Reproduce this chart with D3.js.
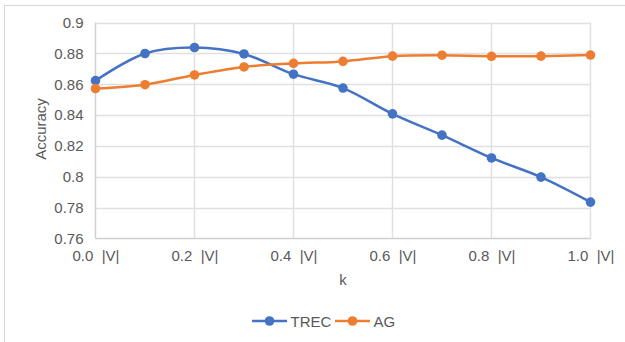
<!DOCTYPE html>
<html>
<head>
<meta charset="utf-8">
<script src="https://cdn.jsdelivr.net/npm/d3@7"></script>
<style>
  html, body { margin: 0; padding: 0; background: #fff; }
  svg { display: block; }
  text { font-family: "Liberation Sans", Arial, sans-serif; fill: #595959; }
</style>
</head>
<body>
<svg id="chart" width="625" height="342"></svg>
<script>
// k as a fraction of |V|
const kValues = [0.0, 0.1, 0.2, 0.3, 0.4, 0.5, 0.6, 0.7, 0.8, 0.9, 1.0];
const trecAccuracy = [0.8623, 0.8799, 0.8838, 0.8796, 0.8665, 0.8575, 0.8408, 0.8270, 0.8122, 0.7998, 0.7836];
const agAccuracy   = [0.8572, 0.8597, 0.8660, 0.8712, 0.8735, 0.8748, 0.8782, 0.8788, 0.8781, 0.8782, 0.8789];
const yTicks = [0.76, 0.78, 0.8, 0.82, 0.84, 0.86, 0.88, 0.9];
const xLabelTicks = [0.0, 0.2, 0.4, 0.6, 0.8, 1.0];
const seriesNames = ["TREC", "AG"];
const seriesColors = ["#4472C4", "#ED7D31"];

const svg = d3.select("#chart");
const plot = { left: 95.5, right: 590.5, top: 22.5, bottom: 238.5 };

// outer chart frame
svg.append("rect")
  .attr("x", 4.5).attr("y", 5.5).attr("width", 700).attr("height", 400)
  .attr("fill", "none").attr("stroke", "#d9d9d9").attr("stroke-width", 1);

const x = d3.scaleLinear().domain([0, 1]).range([plot.left, plot.right]);
const y = d3.scaleLinear().domain([0.76, 0.9]).range([plot.bottom, plot.top]);

// horizontal gridlines + y labels
const yAxis = d3.axisLeft(y).tickValues(yTicks).tickSize(0).tickPadding(12)
  .tickFormat(d => d3.format("")(+d.toFixed(2)));
const gy = svg.append("g").attr("transform", `translate(${plot.left},0)`).call(yAxis);
gy.select(".domain").remove();
gy.selectAll("text").attr("font-size", 15).attr("fill", "#595959")
  .attr("font-family", "Liberation Sans, Arial, sans-serif");
svg.append("g").selectAll("line").data(yTicks.filter(t => t > 0.76)).join("line")
  .attr("x1", plot.left).attr("x2", plot.right)
  .attr("y1", d => Math.round(y(d)) + 0.5).attr("y2", d => Math.round(y(d)) + 0.5)
  .attr("stroke", "#e0e0e0").attr("stroke-width", 1.5);

// vertical gridlines at labelled k values
svg.append("g").selectAll("line").data(xLabelTicks).join("line")
  .attr("x1", d => x(d)).attr("x2", d => x(d))
  .attr("y1", plot.top).attr("y2", plot.bottom)
  .attr("stroke", d => d === 0 ? "#d0d0d0" : "#e0e0e0").attr("stroke-width", 1.5);

// bottom axis line
svg.append("line")
  .attr("x1", plot.left).attr("x2", plot.right)
  .attr("y1", plot.bottom).attr("y2", plot.bottom)
  .attr("stroke", "#cfcfcf").attr("stroke-width", 1.5);

// x labels
const xAxis = d3.axisBottom(x).tickValues(xLabelTicks).tickSize(0).tickPadding(0)
  .tickFormat(d => d3.format(".1f")(d) + "\u00a0\u00a0|V|");
const gx = svg.append("g").attr("transform", `translate(0,${plot.bottom})`).call(xAxis);
gx.select(".domain").remove();
gx.selectAll("text").attr("font-size", 15).attr("fill", "#595959")
  .attr("font-family", "Liberation Sans, Arial, sans-serif")
  .attr("dy", null).attr("y", 22.5);

// axis titles
svg.append("text").attr("x", (plot.left + plot.right) / 2).attr("y", 285)
  .attr("text-anchor", "middle").attr("font-size", 15).text("k");
svg.append("text").attr("transform", "translate(45.5,129) rotate(-90)")
  .attr("text-anchor", "middle").attr("font-size", 15).text("Accuracy");

// series
const series = [trecAccuracy, agAccuracy];
const line = d3.line().curve(d3.curveCatmullRom.alpha(0))
  .x((d, i) => x(kValues[i])).y(d => y(d));
series.forEach((vals, s) => {
  svg.append("path").datum(vals).attr("d", line)
    .attr("fill", "none").attr("stroke", seriesColors[s]).attr("stroke-width", 2.5);
});
series.forEach((vals, s) => {
  svg.append("g").selectAll("circle").data(vals).join("circle")
    .attr("cx", (d, i) => x(kValues[i])).attr("cy", d => y(d)).attr("r", 4.8)
    .attr("fill", seriesColors[s]);
});

// legend
const legendX = [252, 335];
seriesNames.forEach((name, s) => {
  const g = svg.append("g").attr("transform", `translate(${legendX[s]},321)`);
  g.append("line").attr("x1", 0).attr("x2", 35).attr("y1", 0).attr("y2", 0)
    .attr("stroke", seriesColors[s]).attr("stroke-width", 2.5);
  g.append("circle").attr("cx", 17.5).attr("cy", 0).attr("r", 4.8).attr("fill", seriesColors[s]);
  g.append("text").attr("x", 38.5).attr("y", 5.5).attr("font-size", 15).text(name);
});
</script>
</body>
</html>
